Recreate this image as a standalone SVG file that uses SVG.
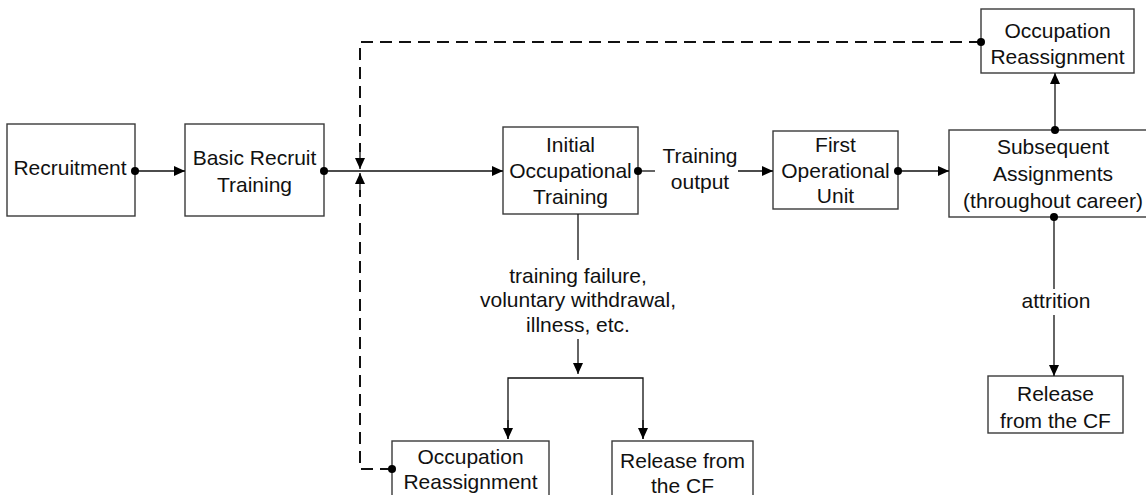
<svg xmlns="http://www.w3.org/2000/svg" width="1146" height="495" viewBox="0 0 1146 495">
<defs>
<style>
.box{fill:#fff;stroke:#3a3a3a;stroke-width:1.4}
.t{font-family:"Liberation Sans",Arial,sans-serif;font-size:21px;fill:#111;text-anchor:middle}
.c{fill:none;stroke:#111;stroke-width:1.3}
.d{fill:none;stroke:#111;stroke-width:2;stroke-dasharray:12 7}
.dot{fill:#000}
</style>
<marker id="arr" markerUnits="userSpaceOnUse" markerWidth="11" markerHeight="10" refX="11" refY="5" orient="auto">
<path d="M0,0 L11,5 L0,10 z" fill="#000"/>
</marker>
</defs>
<rect width="1146" height="495" fill="#fff"/>
<g id="recruitment">
<rect class="box" x="7" y="124" width="128" height="92"/>
<text class="t" x="70" y="175">Recruitment</text>
</g>
<g id="basic-recruit-training">
<rect class="box" x="185" y="124" width="139" height="92"/>
<text class="t" x="254.5" y="164.5">Basic Recruit</text>
<text class="t" x="254.5" y="192">Training</text>
</g>
<g id="initial-occupational-training">
<rect class="box" x="503" y="127" width="135" height="87"/>
<text class="t" x="570.5" y="151.5">Initial</text>
<text class="t" x="570.5" y="178">Occupational</text>
<text class="t" x="570.5" y="204">Training</text>
</g>
<g id="first-operational-unit">
<rect class="box" x="773" y="131" width="125" height="78"/>
<text class="t" x="835.5" y="151.5">First</text>
<text class="t" x="835.5" y="178">Operational</text>
<text class="t" x="835.5" y="203">Unit</text>
</g>
<g id="subsequent-assignments">
<rect class="box" x="949" y="130" width="212" height="87"/>
<text class="t" x="1053" y="154">Subsequent</text>
<text class="t" x="1053" y="181">Assignments</text>
<text class="t" x="1053" y="207.5">(throughout career)</text>
</g>
<g id="occupation-reassignment-top">
<rect class="box" x="981" y="9" width="153" height="64"/>
<text class="t" x="1057.5" y="37.5">Occupation</text>
<text class="t" x="1057.5" y="64">Reassignment</text>
</g>
<g id="release-right">
<rect class="box" x="988" y="376" width="135" height="57"/>
<text class="t" x="1055.5" y="401">Release</text>
<text class="t" x="1055.5" y="428">from the CF</text>
</g>
<g id="occupation-reassignment-bottom">
<rect class="box" x="392" y="441" width="157" height="70"/>
<text class="t" x="470.5" y="464">Occupation</text>
<text class="t" x="470.5" y="489">Reassignment</text>
</g>
<g id="release-bottom">
<rect class="box" x="612" y="441" width="141" height="70"/>
<text class="t" x="682.5" y="467.5">Release from</text>
<text class="t" x="682.5" y="492.5">the CF</text>
</g>
<g id="connectors">
<path class="c" d="M135,171 H185" marker-end="url(#arr)"/>
<path class="c" d="M324,171 H503" marker-end="url(#arr)"/>
<path class="c" d="M638,171 H655"/>
<path class="c" d="M738,171 H773" marker-end="url(#arr)"/>
<path class="c" d="M898,171 H949" marker-end="url(#arr)"/>
<path class="c" d="M1055,130 V73" marker-end="url(#arr)"/>
<path class="c" d="M1054,217 V289"/>
<path class="c" d="M1054,315 V376" marker-end="url(#arr)"/>
<path class="c" d="M578,214 V260"/>
<path class="c" d="M578,339 V374" marker-end="url(#arr)"/>
<path class="c" d="M508,439 V378 H643 V439"/>
<path class="c" d="M508,420 V439" marker-end="url(#arr)"/>
<path class="c" d="M643,420 V439" marker-end="url(#arr)"/>
<path class="d" d="M981,42 H360 V152"/>
<path class="c" d="M360,150 V169" marker-end="url(#arr)"/>
<path class="d" d="M392,469 H360 V190"/>
<path class="c" d="M360,192 V173" marker-end="url(#arr)"/>
<circle class="dot" cx="135" cy="171" r="4"/>
<circle class="dot" cx="324" cy="171" r="4"/>
<circle class="dot" cx="638" cy="171" r="4"/>
<circle class="dot" cx="898" cy="171" r="4"/>
<circle class="dot" cx="1055" cy="130" r="4"/>
<circle class="dot" cx="1054" cy="217" r="4"/>
<circle class="dot" cx="981" cy="42" r="4"/>
<circle class="dot" cx="392" cy="469" r="4"/>
<text class="t" x="700" y="163">Training</text>
<text class="t" x="700" y="189">output</text>
<text class="t" x="1056" y="307.5">attrition</text>
<text class="t" x="578" y="282.5">training failure,</text>
<text class="t" x="578" y="307">voluntary withdrawal,</text>
<text class="t" x="578" y="331.5">illness, etc.</text>
</g>
</svg>
